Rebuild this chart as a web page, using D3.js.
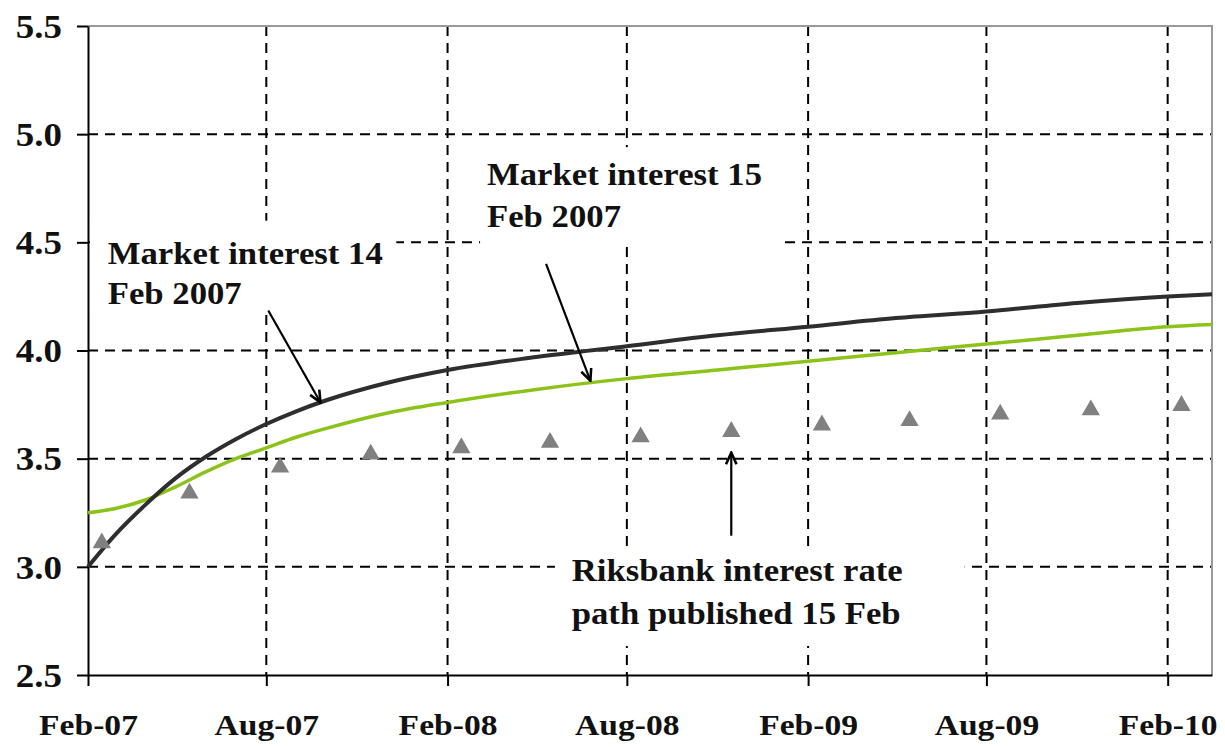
<!DOCTYPE html>
<html>
<head>
<meta charset="utf-8">
<script src="https://cdn.jsdelivr.net/npm/d3@7"></script>
<style>
  body { margin: 0; background: #fff; }
  svg text { font-family: "Liberation Serif", "Times New Roman", Times, "DejaVu Serif", serif; font-weight: bold; fill: #111; }
</style>
</head>
<body>
<svg id="chart" width="1225" height="747"></svg>
<script>
// --- data ---
const xTickDates = ["2007-02-01", "2007-08-01", "2008-02-01", "2008-08-01", "2009-02-01", "2009-08-01", "2010-02-01"];
const xTickLabels = ["Feb-07", "Aug-07", "Feb-08", "Aug-08", "Feb-09", "Aug-09", "Feb-10"];
const yTicks = [2.5, 3.0, 3.5, 4.0, 4.5, 5.0, 5.5];

const curveDates = ["2007-02-01", "2007-03-01", "2007-04-01", "2007-05-01", "2007-06-01", "2007-07-01",
  "2007-08-01", "2007-09-01", "2007-10-01", "2007-12-01", "2008-02-01", "2008-05-01", "2008-08-01", "2008-11-01",
  "2009-02-01", "2009-05-01", "2009-08-01", "2009-11-01", "2010-02-01", "2010-03-18"];
const market14 = [3.00, 3.15, 3.29, 3.41, 3.51, 3.59, 3.66, 3.72, 3.77, 3.85, 3.91, 3.97, 4.02, 4.07,
  4.11, 4.15, 4.18, 4.22, 4.25, 4.26];
const market15 = [3.25, 3.27, 3.31, 3.37, 3.44, 3.50, 3.55, 3.60, 3.64, 3.71, 3.76, 3.82, 3.87, 3.91,
  3.95, 3.99, 4.03, 4.07, 4.11, 4.12];

const pathDates = ["2007-02-15", "2007-05-15", "2007-08-15", "2007-11-15", "2008-02-15", "2008-05-15",
  "2008-08-15", "2008-11-15", "2009-02-15", "2009-05-15", "2009-08-15", "2009-11-15", "2010-02-15"];
const riksbankPath = [3.11, 3.34, 3.46, 3.52, 3.55, 3.575, 3.60, 3.625, 3.655, 3.675, 3.705, 3.725, 3.745];

const parse = d3.timeParse("%Y-%m-%d");

var svg = d3.select("#chart"),
    margin = {left: 88, right: 13, top: 26, bottom: 72},
    width = +svg.attr("width") - margin.left - margin.right,
    height = +svg.attr("height") - margin.top - margin.bottom;

let g = svg.append("g").attr("transform", `translate(${margin.left},${margin.top})`);

var x = d3.scaleTime()
    .domain([parse("2007-02-01"), parse("2010-03-18")])
    .range([0, width]);
var y = d3.scaleLinear()
    .domain([2.5, 5.5])
    .range([height, 0]);

const stretch = "scale(1.12,1)";
const serif = '"Liberation Serif", "Times New Roman", Times, "DejaVu Serif", serif';

// grid
g.append("g").selectAll("line")
  .data(yTicks.filter(d => d > 2.5 && d < 5.5))
  .enter().append("line")
    .attr("x1", 0).attr("x2", width)
    .attr("y1", d => y(d)).attr("y2", d => y(d))
    .attr("stroke", "#000").attr("stroke-width", 2)
    .attr("stroke-dasharray", "10,7");

g.append("g").selectAll("line")
  .data(xTickDates.slice(1))
  .enter().append("line")
    .attr("x1", d => x(parse(d))).attr("x2", d => x(parse(d)))
    .attr("y1", 0).attr("y2", height)
    .attr("stroke", "#000").attr("stroke-width", 2)
    .attr("stroke-dasharray", "10,7");

// gray frame on top and right
g.append("path")
  .attr("d", `M0,0H${width}V${height}`)
  .attr("fill", "none").attr("stroke", "#999").attr("stroke-width", 2);

// axes
let yAxis = g.append("g")
  .attr("font-family", serif)
  .call(d3.axisLeft(y).tickValues(yTicks).tickSize(11).tickSizeOuter(0).tickFormat(d3.format(".1f")));
yAxis.select(".domain").attr("stroke", "#000").attr("stroke-width", 2);
yAxis.selectAll(".tick line").attr("stroke", "#000").attr("stroke-width", 2);
yAxis.selectAll(".tick text")
  .attr("x", 0).attr("dy", "0.34em")
  .attr("transform", "translate(-26,0) " + stretch)
  .style("font-size", "33px").style("font-family", serif).style("font-weight", "bold")
  .attr("fill", "#111");

let xAxis = g.append("g").attr("transform", `translate(0,${height})`)
  .attr("font-family", serif)
  .call(d3.axisBottom(x).tickValues(xTickDates.map(parse)).tickSize(11).tickSizeOuter(0)
    .tickFormat((d, i) => xTickLabels[i]));
xAxis.select(".domain").attr("stroke", "#000").attr("stroke-width", 2);
xAxis.selectAll(".tick line").attr("stroke", "#000").attr("stroke-width", 2);
xAxis.selectAll(".tick text")
  .attr("y", 0).attr("dy", 0)
  .attr("transform", "translate(0,60) " + stretch)
  .style("font-size", "30px").style("font-family", serif).style("font-weight", "bold")
  .attr("fill", "#111");

// white label boxes hide the grid behind the annotations
const boxes = [
  {x0: "2007-02-03", x1: "2007-12-11", y0: 4.60, y1: 4.185},
  {x0: "2008-03-05", x1: "2009-01-06", y0: 4.94, y1: 4.486},
  {x0: "2008-05-20", x1: "2009-07-10", y0: 3.088, y1: 2.634}
];
g.append("g").selectAll("rect")
  .data(boxes)
  .enter().append("rect")
    .attr("x", d => x(parse(d.x0)))
    .attr("y", d => y(d.y0))
    .attr("width", d => x(parse(d.x1)) - x(parse(d.x0)))
    .attr("height", d => y(d.y1) - y(d.y0))
    .attr("fill", "#fff");

// lines
var line = d3.line()
    .x((d, i) => x(parse(curveDates[i])))
    .y(d => y(d))
    .curve(d3.curveMonotoneX);

g.append("path").datum(market15)
  .attr("d", line)
  .attr("fill", "none").attr("stroke", "#8cc31a").attr("stroke-width", 3.5);

g.append("path").datum(market14)
  .attr("d", line)
  .attr("fill", "none").attr("stroke", "#2e2e2e").attr("stroke-width", 4);

// riksbank path triangles
g.append("g").selectAll("path")
  .data(riksbankPath)
  .enter().append("path")
    .attr("d", d3.symbol().type(d3.symbolTriangle).size(145))
    .attr("transform", (d, i) => `translate(${x(parse(pathDates[i]))},${y(d)})`)
    .attr("fill", "#808080");

// arrows
svg.append("defs").append("marker")
    .attr("id", "arrow")
    .attr("viewBox", "0 0 12 12")
    .attr("refX", 11).attr("refY", 6)
    .attr("markerWidth", 14).attr("markerHeight", 14)
    .attr("markerUnits", "userSpaceOnUse")
    .attr("orient", "auto")
  .append("path")
    .attr("d", "M1,1.5L11,6L1,10.5")
    .attr("fill", "none").attr("stroke", "#000").attr("stroke-width", 2.2);

const arrows = [
  {from: ["2007-08-03", 4.185], to: ["2007-09-25", 3.76]},
  {from: ["2008-05-11", 4.40], to: ["2008-06-25", 3.86]},
  {from: ["2008-11-15", 3.144], to: ["2008-11-15", 3.528]}
];
g.append("g").selectAll("line")
  .data(arrows)
  .enter().append("line")
    .attr("x1", d => x(parse(d.from[0]))).attr("y1", d => y(d.from[1]))
    .attr("x2", d => x(parse(d.to[0]))).attr("y2", d => y(d.to[1]))
    .attr("stroke", "#000").attr("stroke-width", 2.2)
    .attr("marker-end", "url(#arrow)");

// annotation text
const notes = [
  {lines: ["Market interest 14", "Feb 2007"], at: ["2007-02-21", 4.40], gap: 40},
  {lines: ["Market interest 15", "Feb 2007"], at: ["2008-03-12", 4.764], gap: 42},
  {lines: ["Riksbank interest rate", "path published 15 Feb"], at: ["2008-06-06", 2.935], gap: 43}
];
notes.forEach(n => {
  let t = g.append("text")
    .attr("transform", `translate(${x(parse(n.at[0]))},${y(n.at[1])}) ${stretch}`)
    .style("font-family", serif)
    .style("font-size", "31px");
  n.lines.forEach((s, i) => {
    t.append("tspan").attr("x", 0).attr("y", i * n.gap).text(s);
  });
});
</script>
</body>
</html>
